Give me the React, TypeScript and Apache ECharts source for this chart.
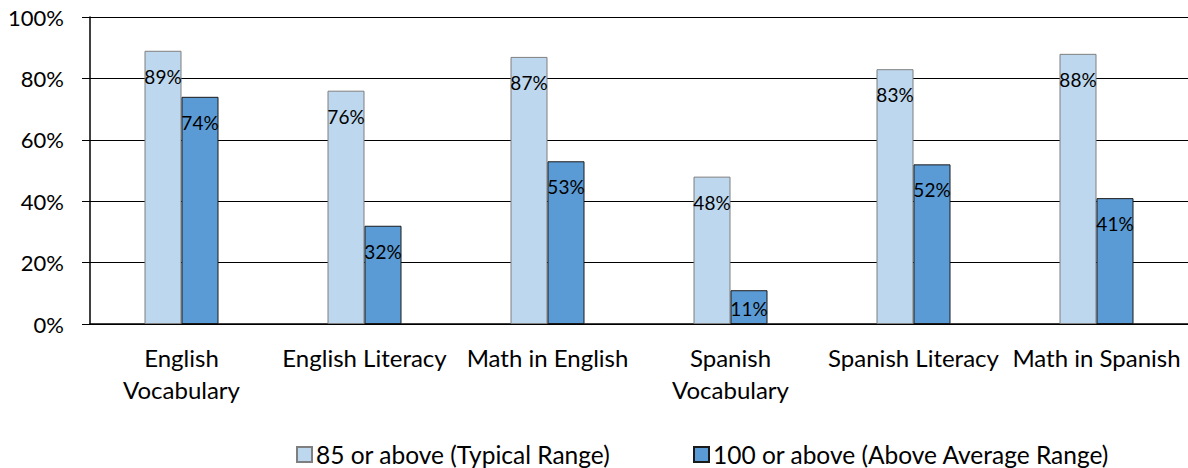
import React, { useEffect, useRef } from "react";
import * as echarts from "echarts";

const categories = [
  "English Vocabulary",
  "English Literacy",
  "Math in English",
  "Spanish Vocabulary",
  "Spanish Literacy",
  "Math in Spanish",
];
const typicalName = "85 or above (Typical Range)";
const aboveName = "100 or above (Above Average Range)";
const typicalValues = [89, 76, 87, 48, 83, 88];
const aboveValues = [74, 32, 53, 11, 52, 41];
const yTicks = [0, 20, 40, 60, 80, 100];

const FONT = "Lato, 'Open Sans', sans-serif";

export default function App() {
  const ref = useRef<HTMLDivElement>(null);
  useEffect(() => {
    if (!ref.current) return;
    const chart = echarts.init(ref.current, undefined, { renderer: "svg" });
    const mkData = (vals: number[]) =>
      vals.map((v) => ({
        value: v,
        label: { distance: v < 20 ? 9 : 16 },
      }));
    const labelCfg = {
      show: true,
      position: "insideTop",
      color: "#000",
      fontFamily: FONT,
      fontSize: 19,
      formatter: (p: any) => `${p.value}%`,
    };
    const legendBase = {
      top: 442,
      itemWidth: 15,
      itemHeight: 15,
      itemGap: 6,
      padding: 0,
      icon: "rect",
      textStyle: { fontFamily: FONT, fontSize: 24.5, color: "#000", padding: [0, 0, 0, -1] },
    };
    chart.setOption({
      animation: false,
      grid: { left: 90, right: -6, top: 17, bottom: 144, containLabel: false },
      legend: [
        { ...legendBase, data: [typicalName], left: 296 },
        { ...legendBase, data: [aboveName], left: 693 },
      ],
      xAxis: {
        type: "category",
        data: categories,
        axisTick: { show: false },
        axisLine: { lineStyle: { color: "#000", width: 1.5 } },
        axisLabel: {
          interval: 0,
          margin: 17,
          fontFamily: FONT,
          fontSize: 24,
          lineHeight: 32,
          color: "#000",
          formatter: (v: string) => (v.includes("Vocabulary") ? v.replace(" ", "\n") : v),
        },
      },
      yAxis: {
        type: "value",
        min: yTicks[0],
        max: yTicks[yTicks.length - 1],
        interval: yTicks[1] - yTicks[0],
        axisLine: { show: true, lineStyle: { color: "#000", width: 1.5 } },
        axisTick: { show: true, length: 8, lineStyle: { color: "#000" } },
        splitLine: { lineStyle: { color: "#000", width: 1 } },
        axisLabel: {
          margin: 26,
          fontFamily: FONT,
          fontSize: 22,
          color: "#000",
          formatter: "{value}%",
        },
      },
      series: [
        {
          name: typicalName,
          type: "bar",
          data: mkData(typicalValues),
          barGap: "0%",
          barWidth: 37,
          itemStyle: { color: "#BDD7EE", borderColor: "#7F7F7F", borderWidth: 1 },
          label: labelCfg,
        },
        {
          name: aboveName,
          type: "bar",
          data: mkData(aboveValues),
          barGap: "0%",
          barWidth: 37,
          itemStyle: { color: "#5B9BD5", borderColor: "#1a1a1a", borderWidth: 1 },
          label: labelCfg,
        },
      ],
    });
    return () => chart.dispose();
  }, []);
  return (
    <div
      ref={ref}
      style={{ position: "fixed", left: 0, top: 0, width: 1188, height: 468, background: "#fff" }}
    />
  );
}
